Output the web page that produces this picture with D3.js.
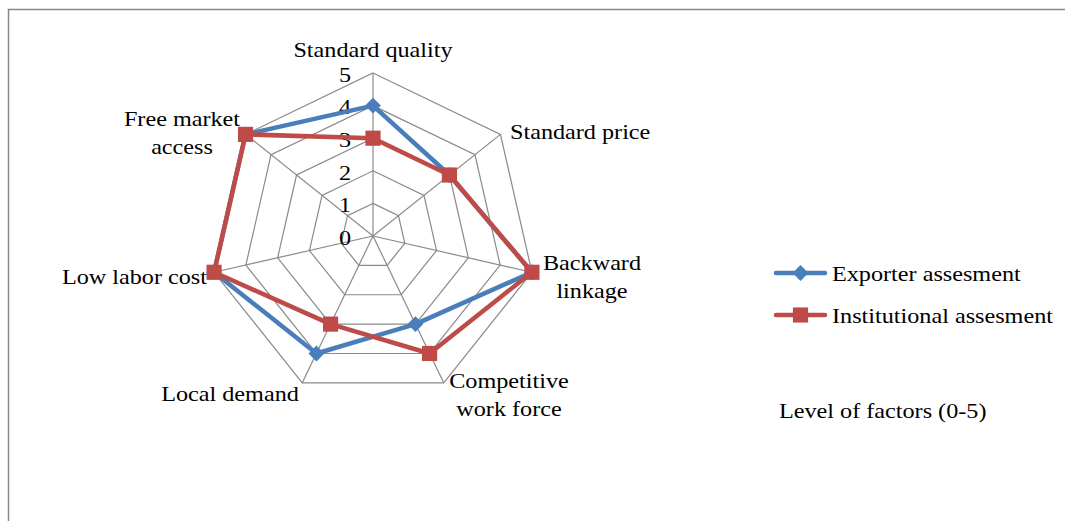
<!DOCTYPE html>
<html>
<head>
<meta charset="utf-8">
<script src="https://cdn.jsdelivr.net/npm/d3@7"></script>
<style>
  html, body { margin: 0; padding: 0; background: #fff; }
  svg { display: block; }
  text { font-family: "Liberation Serif", "Times New Roman", serif; fill: #000; }
</style>
</head>
<body>
<svg id="chart" width="1065" height="521"></svg>
<script>
// Factors on the spokes (clockwise from the top); "\n" splits a label over two lines
const factors = [
  "Standard quality",
  "Standard price",
  "Backward\nlinkage",
  "Competitive\nwork force",
  "Local demand",
  "Low labor cost",
  "Free market\naccess"
];
const exporterValues = [4, 3, 5, 3, 4, 5, 5];
const institutionalValues = [3, 3, 5, 4, 3, 5, 5];
const levelTicks = [0, 1, 2, 3, 4, 5];
const seriesNames = ["Exporter assesment", "Institutional assesment"];
const noteText = "Level of factors (0-5)";

const svg = d3.select("#chart");
const cx = 373, cy = 236, R = 163;
const fontSize = 22;
const stretch = 1.1;   // wide serif type

// text placed at (x, y) with a horizontal stretch
function label(parent, x, y, anchor, lines, lineH) {
  const t = parent.append("text")
    .attr("transform", `translate(${x},${y}) scale(${stretch},1)`)
    .attr("text-anchor", anchor)
    .attr("font-size", fontSize);
  lines.forEach((ln, k) => {
    t.append("tspan").attr("x", 0).attr("dy", k === 0 ? "0.35em" : (lineH || 28)).text(ln);
  });
  return t;
}

// outer frame
svg.append("rect")
  .attr("x", 8.5).attr("y", 9.5)
  .attr("width", 1100).attr("height", 600)
  .attr("fill", "none").attr("stroke", "#878787").attr("stroke-width", 1.5);

const g = svg.append("g").attr("transform", `translate(${cx},${cy})`);

const r = d3.scaleLinear().domain([0, 5]).range([0, R]);
const angle = d3.scaleLinear().domain([0, factors.length]).range([0, 2 * Math.PI]);
const px = (i, v) => r(v) * Math.sin(angle(i));
const py = (i, v) => -r(v) * Math.cos(angle(i));

// grid rings
const ringLine = d3.lineRadial()
  .angle((d, i) => angle(i))
  .radius(d => r(d))
  .curve(d3.curveLinearClosed);

levelTicks.filter(t => t > 0).forEach(t => {
  g.append("path")
    .attr("d", ringLine(factors.map(() => t)))
    .attr("fill", "none").attr("stroke", "#8a8a8a").attr("stroke-width", 1.2);
});

// spokes
g.selectAll("line.spoke").data(factors).join("line")
  .attr("class", "spoke")
  .attr("x1", 0).attr("y1", 0)
  .attr("x2", (d, i) => px(i, 5)).attr("y2", (d, i) => py(i, 5))
  .attr("stroke", "#8a8a8a").attr("stroke-width", 1.2);

// level tick labels along the top spoke
levelTicks.forEach(d => label(g, -22, -r(d) + 1, "end", [String(d)]));

// series
const seriesLine = d3.lineRadial()
  .angle((d, i) => angle(i))
  .radius(d => r(d))
  .curve(d3.curveLinearClosed);

const series = [
  { name: seriesNames[0], values: exporterValues, color: "#4a7ebb", shape: d3.symbolDiamond2, size: 160 },
  { name: seriesNames[1], values: institutionalValues, color: "#be4b48", shape: d3.symbolSquare, size: 230 }
];

series.forEach(s => {
  g.append("path")
    .attr("d", seriesLine(s.values))
    .attr("fill", "none").attr("stroke", s.color)
    .attr("stroke-width", 4.5).attr("stroke-linejoin", "round");
});
series.forEach(s => {
  g.selectAll(null).data(s.values).join("path")
    .attr("transform", (d, i) => `translate(${px(i, d)},${py(i, d)})`)
    .attr("d", d3.symbol().type(s.shape).size(s.size))
    .attr("fill", s.color);
});

// factor labels
const labelPos = [
  { x: 0, y: -187, anchor: "middle" },
  { x: 137, y: -105, anchor: "start" },
  { x: 219, y: 26, anchor: "middle" },
  { x: 136, y: 144, anchor: "middle" },
  { x: -143, y: 157, anchor: "middle" },
  { x: -166, y: 40, anchor: "end" },
  { x: -191, y: -118, anchor: "middle" }
];
factors.forEach((f, i) => {
  const p = labelPos[i];
  label(g, p.x, p.y, p.anchor, f.split("\n"), 28);
});

// legend
const legend = svg.append("g");
series.forEach((s, i) => {
  const y = 273 + i * 42;
  legend.append("line")
    .attr("x1", 776).attr("x2", 825).attr("y1", y).attr("y2", y)
    .attr("stroke", s.color).attr("stroke-width", 4.5).attr("stroke-linecap", "round");
  legend.append("path")
    .attr("transform", `translate(800.5,${y})`)
    .attr("d", d3.symbol().type(s.shape).size(s.size))
    .attr("fill", s.color);
  label(legend, 832, y, "start", [s.name]);
});

label(svg, 779, 410, "start", [noteText]);
</script>
</body>
</html>
